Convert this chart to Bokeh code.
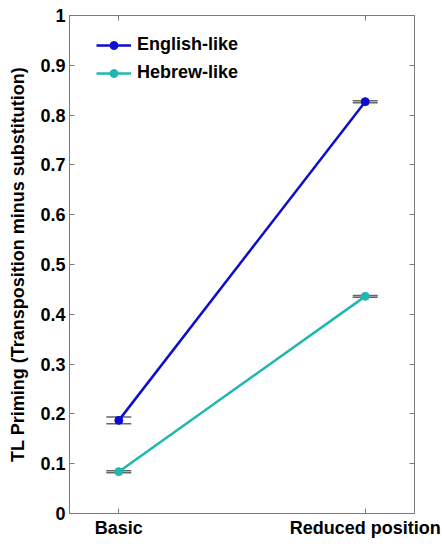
from bokeh.plotting import figure
from bokeh.models import (ColumnDataSource, Whisker, LinearAxis, FixedTicker, Range1d, Legend, LegendItem)
from bokeh.embed import file_html
from bokeh.resources import INLINE

categories = ["Basic", "Reduced position"]
x_pos = [1, 2]
english = [0.187, 0.827]
english_err = [0.007, 0.002]
hebrew = [0.084, 0.436]
hebrew_err = [0.002, 0.002]
series_names = ["English-like", "Hebrew-like"]
y_ticks = [0, 0.1, 0.2, 0.3, 0.4, 0.5, 0.6, 0.7, 0.8, 0.9, 1]

FONT = "Liberation Sans"
GRAY = "#7a7a7a"
colors = ["#0d0dcc", "#1fb8b0"]

p = figure(width=443, height=544, output_backend="svg", toolbar_location=None,
           x_range=Range1d(0.8, 2.2), y_range=Range1d(0, 1),
           min_border_left=69, min_border_right=29, min_border_top=15, min_border_bottom=31)
p.xgrid.visible = False
p.ygrid.visible = False
p.outline_line_color = GRAY
p.outline_line_width = 1

def style_axis(ax):
    ax.axis_line_color = GRAY
    ax.major_tick_line_color = GRAY
    ax.minor_tick_line_color = None
    ax.major_tick_in = 5
    ax.major_tick_out = 0
    ax.major_label_text_font = FONT
    ax.major_label_text_font_style = "bold"
    ax.major_label_text_color = "black"
    ax.major_label_text_font_size = "18px"

# bottom x axis
xa = p.xaxis[0]
xa.ticker = FixedTicker(ticks=x_pos)
xa.major_label_overrides = {x: c for x, c in zip(x_pos, categories)}
style_axis(xa)
xa.major_label_standoff = 4
# left y axis
ya = p.yaxis[0]
ya.ticker = FixedTicker(ticks=y_ticks)
ya.major_label_overrides = {0: "0", 1: "1"}
style_axis(ya)
ya.major_label_standoff = 4
ya.axis_label = "TL Priming (Transposition minus substitution)"
ya.axis_label_text_font = FONT
ya.axis_label_text_font_style = "bold"
ya.axis_label_text_font_size = "18px"
ya.axis_label_text_color = "black"
ya.axis_label_standoff = 9

# mirrored axes (tick marks only)
ra = LinearAxis(ticker=FixedTicker(ticks=y_ticks))
style_axis(ra)
ra.major_label_overrides = {t: "" for t in y_ticks}
ra.major_label_standoff = 0
p.add_layout(ra, "right")
ta = LinearAxis(ticker=FixedTicker(ticks=x_pos))
style_axis(ta)
ta.major_label_overrides = {t: "" for t in x_pos}
ta.major_label_standoff = 0
p.add_layout(ta, "above")

items = []
for name, vals, errs, col in zip(series_names, [english, hebrew], [english_err, hebrew_err], colors):
    src = ColumnDataSource(dict(x=x_pos, y=vals,
                                lo=[v - e for v, e in zip(vals, errs)],
                                hi=[v + e for v, e in zip(vals, errs)]))
    w = Whisker(source=src, base="x", lower="lo", upper="hi",
                line_color=GRAY, line_width=1.2)
    w.upper_head.size = 25
    w.lower_head.size = 25
    w.upper_head.line_color = "#666666"
    w.lower_head.line_color = "#666666"
    w.upper_head.line_width = 1.5
    w.lower_head.line_width = 1.5
    p.add_layout(w)
    l = p.line("x", "y", source=src, line_color=col, line_width=2.5)
    c = p.scatter("x", "y", source=src, size=8, fill_color=col, line_color=col)
    items.append(LegendItem(label=name, renderers=[l, c]))

legend = Legend(items=items, location=(27, 430))
legend.border_line_color = None
legend.background_fill_alpha = 0
legend.label_text_font = FONT
legend.label_text_font_style = "bold"
legend.label_text_font_size = "18px"
legend.label_text_color = "black"
legend.glyph_width = 35
legend.spacing = 7
legend.margin = 0
legend.padding = 10
legend.label_standoff = 6
p.add_layout(legend)

open("out.html", "w").write(file_html(p, INLINE))
